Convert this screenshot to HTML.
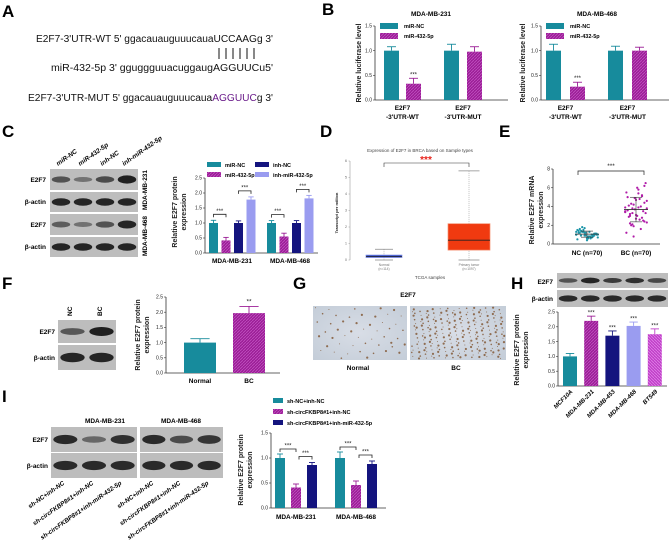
<!DOCTYPE html>
<html><head><meta charset="utf-8"><style>
html,body{margin:0;padding:0;background:#fff;}
svg{display:block;font-family:"Liberation Sans",Arial,sans-serif;}
.L{font-weight:bold;font-size:17px;}
.t{font-size:5px;fill:#222;}
</style></head><body>
<svg id="fig" width="669" height="547" viewBox="0 0 669 547" xmlns="http://www.w3.org/2000/svg">
<defs>
<pattern id="hatch" width="3" height="3" patternUnits="userSpaceOnUse"><rect width="3" height="3" fill="#9b1e96"/><path d="M0,3L3,0" stroke="#c050c0" stroke-width="0.8"/></pattern>
<pattern id="hatch2" width="3" height="3" patternUnits="userSpaceOnUse"><rect width="3" height="3" fill="#c040c8"/><path d="M0,0L3,3" stroke="#e080e8" stroke-width="0.8"/></pattern>
<radialGradient id="tis" cx="50%" cy="50%" r="70%"><stop offset="0" stop-color="#d8dde6"/><stop offset="1" stop-color="#c4cdd8"/></radialGradient>
</defs>
<text class="L" x="2" y="17">A</text>
<text class="L" x="322" y="15">B</text>
<text class="L" x="2" y="137">C</text>
<text class="L" x="320" y="137">D</text>
<text class="L" x="499" y="137">E</text>
<text class="L" x="2" y="289">F</text>
<text class="L" x="293" y="289">G</text>
<text class="L" x="511" y="289">H</text>
<text class="L" x="2" y="402">I</text>

<g font-size="10" fill="#111">
<text x="36" y="42" textLength="237" lengthAdjust="spacingAndGlyphs">E2F7-3'UTR-WT  5' ggacauauguuucauaUCCAAGg 3'</text>
<text x="51" y="71" textLength="222" lengthAdjust="spacingAndGlyphs">miR-432-5p  3' gguggguuacuggaugAGGUUCu5'</text>
<text x="28" y="101" textLength="245" lengthAdjust="spacingAndGlyphs">E2F7-3'UTR-MUT  5' ggacauauguuucaua<tspan fill="#6a1b8a">AGGUUC</tspan>g 3'</text>
<g stroke="#111" stroke-width="1">
<line x1="219" y1="48" x2="219" y2="59"/><line x1="226" y1="48" x2="226" y2="59"/><line x1="233" y1="48" x2="233" y2="59"/><line x1="240" y1="48" x2="240" y2="59"/><line x1="247" y1="48" x2="247" y2="59"/><line x1="254" y1="48" x2="254" y2="59"/>
</g>
</g>
<g id="dyn"></g>
</svg>
<script>
const bGroups = ["E2F7\n-3'UTR-WT", "E2F7\n-3'UTR-MUT"];
const bSeries = ["miR-NC", "miR-432-5p"];
const b231Vals = [[1.0, 0.33], [1.0, 0.98]];
const b231Errs = [[0.08, 0.11], [0.13, 0.10]];
const b468Vals = [[1.0, 0.27], [1.0, 1.0]];
const b468Errs = [[0.13, 0.09], [0.09, 0.07]];
const bTicks = ["0.0", "0.5", "1.0", "1.5"];

const cGroups = ["MDA-MB-231", "MDA-MB-468"];
const cSeries = ["miR-NC", "miR-432-5p", "inh-NC", "inh-miR-432-5p"];
const cVals = [[1.0, 0.42, 1.0, 1.78], [1.0, 0.55, 1.0, 1.82]];
const cErrs = [[0.09, 0.1, 0.07, 0.09], [0.08, 0.11, 0.08, 0.1]];
const cTicks = ["0.0", "0.5", "1.0", "1.5", "2.0", "2.5"];

const dTicks = ["0", "1", "2", "3", "4", "5", "6"];
const dNormal = {min: 0.0, q1: 0.15, med: 0.22, q3: 0.3, max: 0.65};
const dTumor = {min: 0.0, q1: 0.6, med: 1.2, q3: 2.2, max: 5.4};

const eNC = [1.0,1.2,0.8,1.4,0.6,1.1,0.9,1.3,0.7,1.5,1.0,0.5,1.2,0.9,1.6,0.8,1.1,1.3,0.6,1.0,1.7,0.9,1.2,0.4,1.1,1.4,0.8,1.0,1.3,0.7,1.5,0.9,1.1,1.2,0.6,1.0,1.8,0.8,1.3,0.9];
const eBC = [3.5,4.2,2.8,5.0,3.1,6.2,2.2,3.9,4.6,3.3,1.6,5.5,3.7,2.5,4.1,3.0,6.5,2.0,4.8,3.4,0.8,5.2,3.6,2.7,4.4,3.2,5.8,2.3,3.8,4.0,1.2,4.9,3.5,2.9,6.0,3.3,4.3,2.6,3.9,1.9,5.1,3.6,4.7,2.4,3.0,5.4,3.8,2.1];
const eTicks = ["0", "2", "4", "6", "8"];
const eGroups = ["NC (n=70)", "BC (n=70)"];

const fGroups = ["Normal", "BC"];
const fVals = [1.0, 1.97];
const fErrs = [0.13, 0.22];
const fTicks = ["0.0", "0.5", "1.0", "1.5", "2.0", "2.5"];

const hGroups = ["MCF10A", "MDA-MB-231", "MDA-MB-453", "MDA-MB-468", "BT549"];
const hVals = [1.0, 2.2, 1.7, 2.03, 1.75];
const hErrs = [0.1, 0.16, 0.16, 0.13, 0.18];
const hTicks = ["0.0", "0.5", "1.0", "1.5", "2.0", "2.5"];

const iGroups = ["MDA-MB-231", "MDA-MB-468"];
const iSeries = ["sh-NC+inh-NC", "sh-circFKBP8#1+inh-NC", "sh-circFKBP8#1+inh-miR-432-5p"];
const iVals = [[1.0, 0.41, 0.86], [1.0, 0.46, 0.88]];
const iErrs = [[0.08, 0.07, 0.05], [0.12, 0.08, 0.06]];
const iTicks = ["0.0", "0.5", "1.0", "1.5"];

const NS = "http://www.w3.org/2000/svg";
const root = document.getElementById("dyn");
function mk(tag, attrs, parent, txt) {
  const e = document.createElementNS(NS, tag);
  for (const k in attrs) e.setAttribute(k, attrs[k]);
  if (txt !== undefined) e.textContent = txt;
  (parent || root).appendChild(e);
  return e;
}
function axisY(g, x, y0, y1, ticks, tmax) {
  mk("line", {x1: x, y1: y0, x2: x, y2: y1, stroke: "#333", "stroke-width": 0.8}, g);
  ticks.forEach((t, i) => {
    const y = y0 - (y0 - y1) * (parseFloat(t) / tmax);
    mk("line", {x1: x - 2, y1: y, x2: x, y2: y, stroke: "#333", "stroke-width": 0.6}, g);
    const lb = mk("text", {x: x - 3, y: y + 1.7, "text-anchor": "end", class: "t"}, g, t);
    
    
  });
}
function yTitle(g, x, cy, lines, size) {
  lines.forEach((l, i) => {
    const t = mk("text", {x: 0, y: 0, transform: `translate(${x + i * (size + 2)},${cy}) rotate(-90)`, "text-anchor": "middle", "font-size": size, "font-weight": "bold", fill: "#222"}, g, l);
    
    
  });
}
function bar(g, x, w, y0, scale, v, err, fill) {
  const h = v * scale;
  const r = mk("rect", {x: x, y: y0 - h, width: w, height: h, fill: fill}, g);
  
  
  const ec = fill === "url(#hatch)" ? "#9b1e96" : (fill === "url(#hatch2)" ? "#c040c8" : fill);
  const top = y0 - (v + err) * scale;
  mk("line", {x1: x + w / 2, y1: y0 - h, x2: x + w / 2, y2: top, stroke: ec, "stroke-width": 0.9}, g);
  mk("line", {x1: x + w / 2 - w * 0.3, y1: top, x2: x + w / 2 + w * 0.3, y2: top, stroke: ec, "stroke-width": 0.9}, g);
  return top;
}
function stars(g, x, y, s, size) {
  const t = mk("text", {x: x, y: y, "text-anchor": "middle", "font-size": size || 6, fill: "#222"}, g, s);
  
  
}
function bracket(g, x1, x2, y, s) {
  mk("path", {d: `M${x1},${y + 3}V${y}H${x2}V${y + 3}`, fill: "none", stroke: "#222", "stroke-width": 0.8}, g);
  stars(g, (x1 + x2) / 2, y - 1.5, s, 6);
}
function blot(g, x, y, w, h, intens, name) {
  const r = mk("rect", {x: x, y: y, width: w, height: h, fill: "#bdbdbd"}, g);
  
  
  const n = intens.length, lw = w / n;
  intens.forEach((v, i) => {
    mk("ellipse", {cx: x + lw * (i + 0.5), cy: y + h / 2, rx: lw * 0.42, ry: h * 0.1 + h * 0.1 * v, fill: "#111", opacity: 0.3 + 0.65 * v}, g);
  });
}
const teal = "#178b9c", navy = "#14147e", lav = "#9a9cf0";

function chartB(name, axX, bx, title, vals, errs, ytX) {
  const g = mk("g", {});  
  const y0 = 100, y15 = 26, sc = (y0 - y15) / 1.5;
  axisY(g, axX, y0, y15, bTicks, 1.5);
  mk("line", {x1: axX, y1: y0, x2: axX + 133, y2: y0, stroke: "#333", "stroke-width": 0.8}, g);
  const tt = mk("text", {x: axX + 56, y: 16, "text-anchor": "middle", "font-size": 6.5, "font-weight": "bold"}, g, title);
   
  yTitle(g, ytX, 63, ["Relative luciferase level"], 7);
  vals.forEach((grp, gi) => {
    grp.forEach((v, si) => {
      const x = axX + bx[gi * 2 + si];
      const top = bar(g, x, 15, y0, sc, v, errs[gi][si], si ? "url(#hatch)" : teal);
      if (gi === 0 && si === 1) stars(g, x + 7.5, top - 2, "***", 6);
    });
    const cx = axX + (bx[gi * 2] + bx[gi * 2 + 1] + 15) / 2;
    bGroups[gi].split("\n").forEach((l, li) => {
      const t = mk("text", {x: cx, y: 110 + li * 9, "text-anchor": "middle", "font-size": 6.5, "font-weight": "bold"}, g, l);
       
    });
  });
  bSeries.forEach((s, si) => {
    mk("rect", {x: axX + 5, y: 23 + si * 10, width: 18, height: 6, fill: si ? "url(#hatch)" : teal}, g);
    const t = mk("text", {x: axX + 29, y: 28 + si * 10, "font-size": 5.5, "font-weight": "bold"}, g, s);
     
  });
}
chartB("luciferase-chart-mda-mb-231", 375, [9, 31, 69, 92], "MDA-MB-231", b231Vals, b231Errs, 361);
chartB("luciferase-chart-mda-mb-468", 541, [5, 29, 67, 91], "MDA-MB-468", b468Vals, b468Errs, 525);

(function () {
  const g = mk("g", {});  
  const lanes = ["miR-NC", "miR-432-5p", "inh-NC", "inh-miR-432-5p"];
  lanes.forEach((l, i) => {
    const t = mk("text", {x: 0, y: 0, transform: `translate(${58 + i * 22},${166}) rotate(-35)`, "font-size": 6.5, "font-style": "italic", "font-weight": "bold"}, g, l);
     
  });
  blot(g, 50, 169, 88, 21, [0.5, 0.2, 0.55, 0.95], "blot-e2f7-231");
  blot(g, 50, 192, 88, 20, [0.9, 0.9, 0.9, 0.9], "blot-actin-231");
  blot(g, 50, 214, 88, 21, [0.4, 0.2, 0.5, 0.9], "blot-e2f7-468");
  blot(g, 50, 237, 88, 20, [0.9, 0.9, 0.9, 0.9], "blot-actin-468");
  [["E2F7", 182], ["β-actin", 204], ["E2F7", 227], ["β-actin", 249]].forEach(a => {
    const t = mk("text", {x: 46, y: a[1], "text-anchor": "end", "font-size": 6.5, "font-weight": "bold"}, g, a[0]);
     
  });
  [["MDA-MB-231", 190], ["MDA-MB-468", 236]].forEach(a => {
    const t = mk("text", {x: 0, y: 0, transform: `translate(147,${a[1]}) rotate(-90)`, "text-anchor": "middle", "font-size": 6.5, "font-weight": "bold"}, g, a[0]);
     
  });
})();
(function () {
  const g = mk("g", {});  
  const axX = 205, y0 = 253, y1 = 178, sc = (y0 - y1) / 2.5;
  axisY(g, axX, y0, y1, cTicks, 2.5);
  mk("line", {x1: axX, y1: y0, x2: 318, y2: y0, stroke: "#333", "stroke-width": 0.8}, g);
  yTitle(g, 177, 212, ["Relative E2F7 protein", "expression"], 7);
  const fills = [teal, "url(#hatch)", navy, lav];
  const starts = [4, 62];
  cVals.forEach((grp, gi) => {
    const tops = [];
    grp.forEach((v, si) => {
      tops.push(bar(g, axX + starts[gi] + si * 12.5, 9, y0, sc, v, cErrs[gi][si], fills[si]));
    });
    const bx = i => axX + starts[gi] + i * 12.5 + 4.5;
    bracket(g, bx(0), bx(1), Math.min(tops[0], tops[1]) - 6, "***");
    bracket(g, bx(2), bx(3), Math.min(tops[2], tops[3]) - 6, "***");
    const t = mk("text", {x: axX + starts[gi] + 23, y: 263, "text-anchor": "middle", "font-size": 6.5, "font-weight": "bold"}, g, cGroups[gi]);
     
  });
  cSeries.forEach((s, si) => {
    const lx = 207 + Math.floor(si / 2) * 48, ly = 163 + (si % 2) * 10;
    mk("rect", {x: lx, y: ly - 1, width: 14, height: 5, fill: fills[si]}, g);
    const t = mk("text", {x: lx + 18, y: ly + 4, "font-size": 5.5, "font-weight": "bold"}, g, s);
     
  });
})();

(function () {
  const g = mk("g", {});  
  const axX = 350, y0 = 260, per = 16.5;
  const yv = v => y0 - v * per;
  const tt = mk("text", {x: 420, y: 152, "text-anchor": "middle", "font-size": 4.5, fill: "#444"}, g, "Expression of E2F7 in BRCA based on Sample types");
   
  const st = mk("text", {x: 426, y: 163, "text-anchor": "middle", "font-size": 10, fill: "#e8231b", "font-weight": "bold"}, g, "***");
   
  mk("path", {d: "M384,167V163H469V167", fill: "none", stroke: "#333", "stroke-width": 0.6}, g);
  mk("line", {x1: axX, y1: y0, x2: axX, y2: yv(6), stroke: "#888", "stroke-width": 0.5}, g);
  dTicks.forEach(t => {
    mk("line", {x1: axX - 1.5, y1: yv(+t), x2: axX, y2: yv(+t), stroke: "#888", "stroke-width": 0.4}, g);
    mk("text", {x: axX - 3, y: yv(+t) + 1, "text-anchor": "end", "font-size": 3.5, fill: "#666"}, g, t);
  });
  yTitle(g, 338, 213, ["Transcript per million"], 4);
  function box(cx, w, d, fill, stroke, name) {
    const bg = mk("g", {}, g);  
    mk("line", {x1: cx, y1: yv(d.max), x2: cx, y2: yv(d.min), stroke: "#999", "stroke-width": 0.6, "stroke-dasharray": "1,1"}, bg);
    mk("line", {x1: cx - w / 4, y1: yv(d.max), x2: cx + w / 4, y2: yv(d.max), stroke: "#888", "stroke-width": 0.8}, bg);
    mk("line", {x1: cx - w / 4, y1: yv(d.min), x2: cx + w / 4, y2: yv(d.min), stroke: "#888", "stroke-width": 0.8}, bg);
    mk("rect", {x: cx - w / 2, y: yv(d.q3), width: w, height: Math.max(yv(d.q1) - yv(d.q3), 2), fill: fill, stroke: stroke, "stroke-width": 0.7}, bg);
    mk("line", {x1: cx - w / 2, y1: yv(d.med), x2: cx + w / 2, y2: yv(d.med), stroke: "#222", "stroke-width": 0.8}, bg);
  }
  box(384, 36, dNormal, "#2b44c8", "#8090e0", "box-normal");
  box(469, 42, dTumor, "#f03a10", "#f58f70", "box-tumor");
  [["Normal", 384], ["(n=114)", 384], ["Primary tumor", 469], ["(n=1097)", 469]].forEach((a, i) => {
    mk("text", {x: a[1], y: 266 + (i % 2) * 4, "text-anchor": "middle", "font-size": 3.3, fill: "#777"}, g, a[0]);
  });
  const xl = mk("text", {x: 430, y: 279, "text-anchor": "middle", "font-size": 4.5, fill: "#444"}, g, "TCGA samples");
   
})();

(function () {
  const g = mk("g", {});  
  const axX = 553, y0 = 244, y1 = 169, sc = (y0 - y1) / 8;
  axisY(g, axX, y0, y1, eTicks, 8);
  mk("line", {x1: axX, y1: y0, x2: 660, y2: y0, stroke: "#333", "stroke-width": 0.8}, g);
  yTitle(g, 534, 210, ["Relative E2F7 mRNA", "expression"], 7);
  const cxs = [587, 636];
  [eNC, eBC].forEach((arr, gi) => {
    const col = gi ? "#b01ca8" : "#1c95a8";
    arr.forEach((v, i) => {
      const jx = ((i * 7) % 19 - 9) * 1.2;
      const c = mk("circle", {cx: cxs[gi] + jx, cy: y0 - v * sc, r: 1.1, fill: col}, g);
       
    });
    const m = arr.reduce((a, b) => a + b, 0) / arr.length;
    const sd = Math.sqrt(arr.reduce((a, b) => a + (b - m) * (b - m), 0) / arr.length);
    mk("line", {x1: cxs[gi] - 12, y1: y0 - m * sc, x2: cxs[gi] + 12, y2: y0 - m * sc, stroke: "#333", "stroke-width": 0.8}, g);
    mk("line", {x1: cxs[gi], y1: y0 - (m - sd) * sc, x2: cxs[gi], y2: y0 - (m + sd) * sc, stroke: "#333", "stroke-width": 0.6}, g);
    [m - sd, m + sd].forEach(v => mk("line", {x1: cxs[gi] - 6, y1: y0 - v * sc, x2: cxs[gi] + 6, y2: y0 - v * sc, stroke: "#333", "stroke-width": 0.6}, g));
    const t = mk("text", {x: cxs[gi], y: 255, "text-anchor": "middle", "font-size": 6.5, "font-weight": "bold"}, g, eGroups[gi]);
     
  });
  mk("path", {d: "M578,175V171H644V175", fill: "none", stroke: "#222", "stroke-width": 0.7}, g);
  stars(g, 611, 168, "***", 6.5);
})();

(function () {
  const g = mk("g", {});  
  blot(g, 58, 320, 58, 23, [0.45, 0.95], "blot-e2f7-f");
  blot(g, 58, 345, 58, 25, [0.9, 0.9], "blot-actin-f");
  [["NC", 72], ["BC", 102]].forEach(a => {
    const t = mk("text", {x: 0, y: 0, transform: `translate(${a[1]},316) rotate(-90)`, "font-size": 6.5, "font-weight": "bold"}, g, a[0]);
     
  });
  [["E2F7", 334], ["β-actin", 360]].forEach(a => {
    const t = mk("text", {x: 55, y: a[1], "text-anchor": "end", "font-size": 6.5, "font-weight": "bold"}, g, a[0]);
     
  });
  const c = mk("g", {});  
  const axX = 166, y0 = 373, y1 = 297, sc = (y0 - y1) / 2.5;
  axisY(c, axX, y0, y1, fTicks, 2.5);
  mk("line", {x1: axX, y1: y0, x2: 280, y2: y0, stroke: "#333", "stroke-width": 0.8}, c);
  yTitle(c, 140, 335, ["Relative E2F7 protein", "expression"], 7);
  const xs = [184, 233], fills = [teal, "url(#hatch)"];
  fVals.forEach((v, i) => {
    const top = bar(c, xs[i], 32, y0, sc, v, fErrs[i], fills[i]);
    if (i === 1) stars(c, xs[i] + 16, top - 3, "**", 6.5);
    const t = mk("text", {x: xs[i] + 16, y: 383, "text-anchor": "middle", "font-size": 6.5, "font-weight": "bold"}, c, fGroups[i]);
     
  });
})();

(function () {
  const g = mk("g", {});  
  const t = mk("text", {x: 408, y: 297, "text-anchor": "middle", "font-size": 6.5, "font-weight": "bold"}, g, "E2F7");
   
  [[313, 94, 50, "ihc-normal", 0.1], [410, 96, 240, "ihc-bc", 0.37]].forEach(a => {
    const r = mk("rect", {x: a[0], y: 306, width: a[1], height: 54, fill: "url(#tis)"}, g);
     
    for (let k = 1; k <= a[2]; k++) {
      const fx = (a[4] + k * 0.7548776662) % 1, fy = (a[4] * 2 + k * 0.5698402910) % 1;
      mk("circle", {cx: a[0] + 1.5 + fx * (a[1] - 3), cy: 307.5 + fy * 51, r: 0.5 + ((k * 7) % 3) * 0.3, fill: "#7a4a22", opacity: 0.75}, g);
    }
  });
  [["Normal", 358], ["BC", 456]].forEach(a => {
    const l = mk("text", {x: a[1], y: 370, "text-anchor": "middle", "font-size": 6.5, "font-weight": "bold"}, g, a[0]);
     
  });
})();

(function () {
  const g = mk("g", {});  
  blot(g, 557, 273, 111, 15, [0.5, 0.9, 0.7, 0.8, 0.6], "blot-e2f7-h");
  blot(g, 557, 290, 111, 17, [0.85, 0.85, 0.85, 0.85, 0.85], "blot-actin-h");
  [["E2F7", 284], ["β-actin", 301]].forEach(a => {
    const t = mk("text", {x: 553, y: a[1], "text-anchor": "end", "font-size": 6.5, "font-weight": "bold"}, g, a[0]);
     
  });
  const c = mk("g", {});  
  const axX = 558, y0 = 386, y1 = 312, sc = (y0 - y1) / 2.5;
  axisY(c, axX, y0, y1, hTicks, 2.5);
  mk("line", {x1: axX, y1: y0, x2: 667, y2: y0, stroke: "#333", "stroke-width": 0.8}, c);
  yTitle(c, 519, 350, ["Relative E2F7 protein", "expression"], 7);
  const fills = [teal, "url(#hatch)", navy, lav, "url(#hatch2)"];
  hVals.forEach((v, i) => {
    const x = 563 + i * 21.2;
    const top = bar(c, x, 14, y0, sc, v, hErrs[i], fills[i]);
    if (i > 0) stars(c, x + 7, top - 1.5, "***", 6);
    const t = mk("text", {x: 0, y: 0, transform: `translate(${x + 10},${392}) rotate(-45)`, "text-anchor": "end", "font-size": 6, "font-style": "italic", "font-weight": "bold"}, c, hGroups[i]);
     
  });
})();

(function () {
  const g = mk("g", {});  
  blot(g, 51, 427, 86, 25, [0.85, 0.3, 0.8], "blot-e2f7-231-i");
  blot(g, 51, 453, 86, 25, [0.85, 0.85, 0.85], "blot-actin-231-i");
  blot(g, 140, 427, 83, 25, [0.85, 0.55, 0.75], "blot-e2f7-468-i");
  blot(g, 140, 453, 83, 25, [0.85, 0.85, 0.85], "blot-actin-468-i");
  [["MDA-MB-231", 105], ["MDA-MB-468", 181]].forEach(a => {
    const t = mk("text", {x: a[1], y: 423, "text-anchor": "middle", "font-size": 6.5, "font-weight": "bold"}, g, a[0]);
     
  });
  [["E2F7", 442], ["β-actin", 468]].forEach(a => {
    const t = mk("text", {x: 48, y: a[1], "text-anchor": "end", "font-size": 6.5, "font-weight": "bold"}, g, a[0]);
     
  });
  const laneX = [65, 94, 122, 154, 181, 209];
  laneX.forEach((x, i) => {
    const t = mk("text", {x: 0, y: 0, transform: `translate(${x},${484}) rotate(-35)`, "text-anchor": "end", "font-size": 6.3, "font-style": "italic", "font-weight": "bold"}, g, iSeries[i % 3]);
     
  });
  const c = mk("g", {});  
  const axX = 271, y0 = 508, y1 = 433, sc = (y0 - y1) / 1.5;
  axisY(c, axX, y0, y1, iTicks, 1.5);
  mk("line", {x1: axX, y1: y0, x2: 386, y2: y0, stroke: "#333", "stroke-width": 0.8}, c);
  yTitle(c, 243, 470, ["Relative E2F7 protein", "expression"], 7);
  const fills = [teal, "url(#hatch)", navy];
  const starts = [4, 64];
  iVals.forEach((grp, gi) => {
    const tops = [];
    grp.forEach((v, si) => tops.push(bar(c, axX + starts[gi] + si * 16, 10, y0, sc, v, iErrs[gi][si], fills[si])));
    const bx = i => axX + starts[gi] + i * 16 + 5;
    bracket(c, bx(0), bx(1), Math.min(tops[0], tops[1]) - 5, "***");
    bracket(c, bx(1) + 3, bx(2), tops[2] - 6, "***");
    const t = mk("text", {x: axX + starts[gi] + 21, y: 519, "text-anchor": "middle", "font-size": 6.5, "font-weight": "bold"}, c, iGroups[gi]);
     
  });
  iSeries.forEach((s, si) => {
    mk("rect", {x: 273, y: 398 + si * 11, width: 10, height: 5, fill: fills[si]}, c);
    const t = mk("text", {x: 287, y: 403 + si * 11, "font-size": 5.5, "font-weight": "bold"}, c, s);
     
  });
})();
</script>
</body></html>
